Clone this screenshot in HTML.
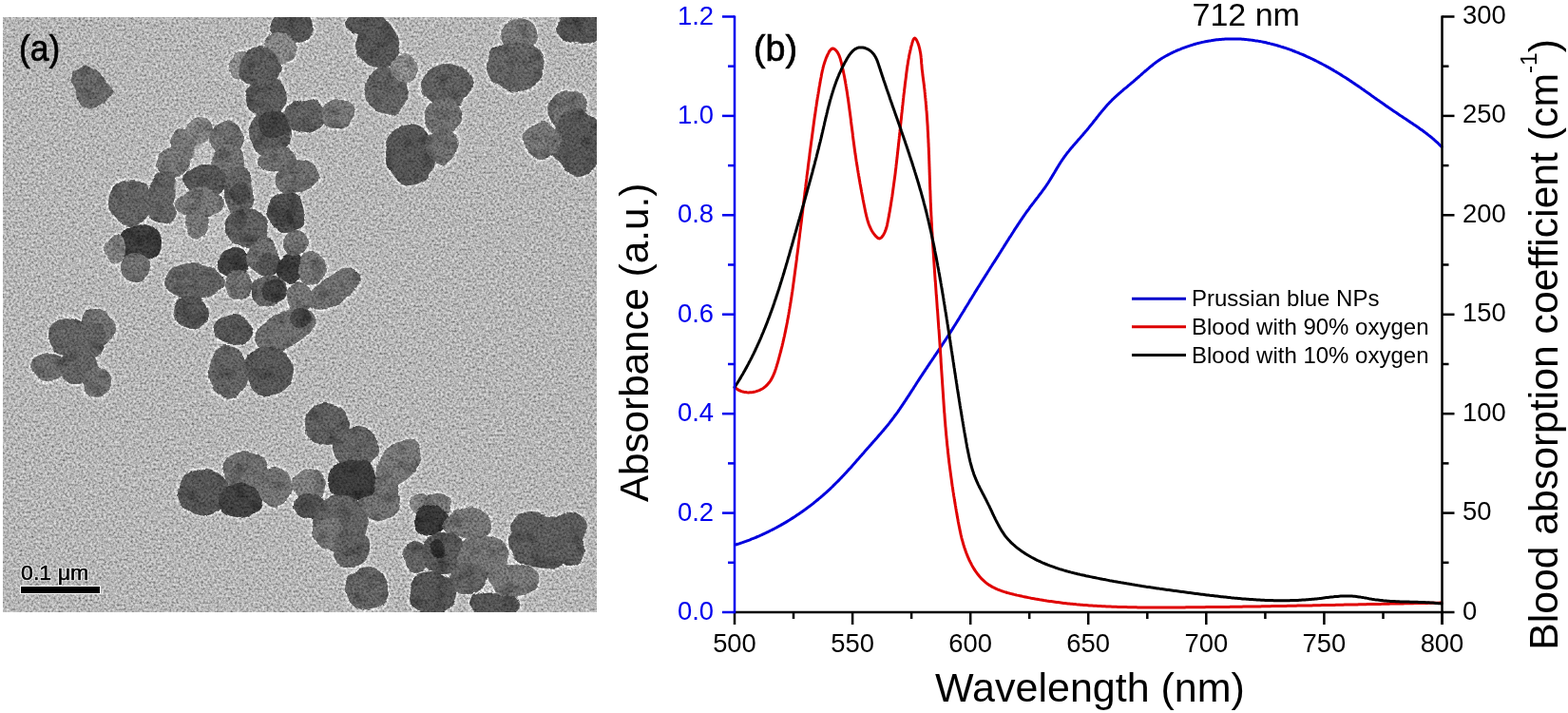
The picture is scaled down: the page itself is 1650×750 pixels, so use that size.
<!DOCTYPE html>
<html><head><meta charset="utf-8"><style>
html,body{margin:0;padding:0;background:#fff;}
body{width:1650px;height:750px;overflow:hidden;}
svg{display:block;}
text{font-family:"Liberation Sans",Arial,sans-serif;}
</style></head><body>
<svg width="1650" height="750" viewBox="0 0 1650 750">
<defs>
<filter id="nz" x="0" y="0" width="1650" height="750" filterUnits="userSpaceOnUse">
<feTurbulence type="fractalNoise" baseFrequency="0.42" numOctaves="2" seed="7" result="t"/>
<feColorMatrix in="t" type="matrix" values="1 0 0 0 0  1 0 0 0 0  1 0 0 0 0  0 0 0 0 1" result="gn"/>
<feGaussianBlur in="gn" stdDeviation="0.45" result="gb"/>
<feComposite in="SourceGraphic" in2="gb" operator="arithmetic" k1="2.0" k2="0.0" k3="0" k4="0"/>
</filter>
<filter id="bl" x="0" y="0" width="1650" height="750" filterUnits="userSpaceOnUse">
<feTurbulence type="fractalNoise" baseFrequency="0.045" numOctaves="2" seed="3" result="dn"/>
<feDisplacementMap in="SourceGraphic" in2="dn" scale="9" xChannelSelector="R" yChannelSelector="G" result="dd"/>
<feGaussianBlur in="dd" stdDeviation="0.75" result="pb"/>
<feTurbulence type="fractalNoise" baseFrequency="0.07" numOctaves="2" seed="11" result="n2"/>
<feColorMatrix in="n2" type="matrix" values="0 0 0 0 0  0 0 0 0 0  0 0 0 0 0  1.3 0 0 0 -0.62" result="dk"/>
<feComposite in="dk" in2="pb" operator="in" result="dki"/>
<feMerge><feMergeNode in="pb"/><feMergeNode in="dki"/></feMerge></filter>
<filter id="bl3" x="0" y="0" width="1650" height="750" filterUnits="userSpaceOnUse">
<feTurbulence type="fractalNoise" baseFrequency="0.045" numOctaves="2" seed="3" result="dn"/>
<feDisplacementMap in="SourceGraphic" in2="dn" scale="9" xChannelSelector="R" yChannelSelector="G" result="dd"/>
<feGaussianBlur in="dd" stdDeviation="1.2"/></filter>
<filter id="bl2" x="0" y="0" width="1650" height="750" filterUnits="userSpaceOnUse">
<feTurbulence type="fractalNoise" baseFrequency="0.045" numOctaves="2" seed="3" result="dn"/>
<feDisplacementMap in="SourceGraphic" in2="dn" scale="9" xChannelSelector="R" yChannelSelector="G" result="dd"/>
<feGaussianBlur in="dd" stdDeviation="1.4"/></filter>
<clipPath id="tc"><rect x="3" y="18" width="625" height="626"/></clipPath>
</defs>
<g clip-path="url(#tc)">
<g filter="url(#nz)">
<rect x="3" y="18" width="625" height="626" fill="#b6b6b6"/>
<g fill="#dedede" filter="url(#bl2)"><ellipse cx="308" cy="27" rx="25" ry="20"/><ellipse cx="253" cy="68" rx="14" ry="16"/><ellipse cx="295" cy="52" rx="19" ry="19"/><ellipse cx="273" cy="70" rx="24" ry="23"/><ellipse cx="281" cy="103" rx="25" ry="23"/><ellipse cx="284" cy="140" rx="25" ry="24"/><ellipse cx="289" cy="131" rx="20" ry="16"/><ellipse cx="322" cy="122" rx="23" ry="20"/><ellipse cx="355" cy="120" rx="19" ry="18"/><ellipse cx="384" cy="24" rx="23" ry="14"/><ellipse cx="397" cy="46" rx="25" ry="29"/><ellipse cx="408" cy="95" rx="25" ry="27"/><ellipse cx="425" cy="72" rx="17" ry="16"/><ellipse cx="470" cy="90" rx="29" ry="25"/><ellipse cx="466" cy="123" rx="21" ry="21"/><ellipse cx="432" cy="163" rx="28" ry="35"/><ellipse cx="465" cy="155" rx="20" ry="20"/><ellipse cx="612" cy="28" rx="27" ry="21"/><ellipse cx="546" cy="37" rx="21" ry="20"/><ellipse cx="543" cy="70" rx="32" ry="28"/><ellipse cx="597" cy="115" rx="23" ry="23"/><ellipse cx="608" cy="150" rx="29" ry="37"/><ellipse cx="571" cy="148" rx="21" ry="21"/><ellipse cx="182" cy="172" rx="19" ry="19" transform="rotate(-40 182 172)"/><ellipse cx="196" cy="152" rx="18" ry="18"/><ellipse cx="210" cy="137" rx="16" ry="17"/><ellipse cx="239" cy="145" rx="19" ry="21"/><ellipse cx="239" cy="170" rx="19" ry="19"/><ellipse cx="217" cy="190" rx="24" ry="19"/><ellipse cx="172" cy="200" rx="17" ry="23"/><ellipse cx="172" cy="222" rx="17" ry="17"/><ellipse cx="138" cy="213" rx="25" ry="26"/><ellipse cx="146" cy="256" rx="24" ry="22"/><ellipse cx="142" cy="281" rx="18" ry="17"/><ellipse cx="121" cy="262" rx="13" ry="17"/><ellipse cx="211" cy="214" rx="27" ry="18"/><ellipse cx="207" cy="236" rx="14" ry="17"/><ellipse cx="251" cy="202" rx="17" ry="29"/><ellipse cx="252" cy="204" rx="13" ry="14"/><ellipse cx="259" cy="239" rx="25" ry="22"/><ellipse cx="253" cy="231" rx="12" ry="12"/><ellipse cx="293" cy="168" rx="23" ry="15"/><ellipse cx="301" cy="223" rx="23" ry="23"/><ellipse cx="298" cy="229" rx="12" ry="12"/><ellipse cx="246" cy="276" rx="19" ry="18"/><ellipse cx="276" cy="268" rx="18" ry="21"/><ellipse cx="283" cy="278" rx="14" ry="14"/><ellipse cx="305" cy="282" rx="17" ry="18"/><ellipse cx="311" cy="256" rx="14" ry="16"/><ellipse cx="328" cy="282" rx="16" ry="19"/><ellipse cx="352" cy="305" rx="33" ry="18" transform="rotate(-37 352 305)"/><ellipse cx="250" cy="300" rx="17" ry="17"/><ellipse cx="283" cy="306" rx="21" ry="19"/><ellipse cx="289" cy="307" rx="14" ry="15"/><ellipse cx="316" cy="313" rx="17" ry="19"/><ellipse cx="312" cy="186" rx="25" ry="19" transform="rotate(-20 312 186)"/><ellipse cx="204" cy="296" rx="33" ry="21"/><ellipse cx="201" cy="329" rx="21" ry="20"/><ellipse cx="246" cy="347" rx="23" ry="18"/><ellipse cx="300" cy="347" rx="36" ry="21" transform="rotate(-25 300 347)"/><ellipse cx="316" cy="334" rx="13" ry="11"/><ellipse cx="240" cy="392" rx="22" ry="30"/><ellipse cx="283" cy="390" rx="28" ry="28"/><ellipse cx="70" cy="354" rx="21" ry="22"/><ellipse cx="103" cy="343" rx="19" ry="23" transform="rotate(-30 103 343)"/><ellipse cx="93" cy="358" rx="21" ry="22"/><ellipse cx="51" cy="386" rx="21" ry="17"/><ellipse cx="81" cy="386" rx="22" ry="19"/><ellipse cx="102" cy="402" rx="17" ry="17"/><ellipse cx="344" cy="446" rx="25" ry="25"/><ellipse cx="374" cy="472" rx="26" ry="24"/><ellipse cx="420" cy="487" rx="31" ry="21" transform="rotate(-50 420 487)"/><ellipse cx="400" cy="525" rx="24" ry="27"/><ellipse cx="371" cy="505" rx="28" ry="24"/><ellipse cx="215" cy="518" rx="28" ry="27"/><ellipse cx="258" cy="496" rx="25" ry="25"/><ellipse cx="252" cy="527" rx="25" ry="20"/><ellipse cx="289" cy="512" rx="21" ry="24"/><ellipse cx="325" cy="510" rx="19" ry="20"/><ellipse cx="326" cy="532" rx="19" ry="16"/><ellipse cx="358" cy="550" rx="32" ry="32"/><ellipse cx="345" cy="560" rx="18" ry="18"/><ellipse cx="370" cy="576" rx="22" ry="22"/><ellipse cx="387" cy="620" rx="24" ry="25"/><ellipse cx="443" cy="530" rx="14" ry="14"/><ellipse cx="461" cy="530" rx="15" ry="14"/><ellipse cx="453" cy="547" rx="19" ry="19"/><ellipse cx="491" cy="551" rx="28" ry="19"/><ellipse cx="437" cy="586" rx="16" ry="20"/><ellipse cx="467" cy="582" rx="25" ry="23"/><ellipse cx="460" cy="578" rx="10" ry="11"/><ellipse cx="509" cy="586" rx="29" ry="26"/><ellipse cx="493" cy="608" rx="22" ry="20"/><ellipse cx="455" cy="624" rx="27" ry="25"/><ellipse cx="521" cy="635" rx="28" ry="15"/><ellipse cx="541" cy="610" rx="29" ry="20"/><ellipse cx="575" cy="570" rx="42" ry="30"/><ellipse cx="560" cy="555" rx="25" ry="19"/><ellipse cx="598" cy="556" rx="21" ry="21"/><ellipse cx="600" cy="580" rx="17" ry="19"/><polygon points="76.9,76.0 89.5,70.1 101.2,75.1 117.3,96.5 110.0,106.8 93.9,114.1 86.5,111.2 82.1,96.5 75.7,83.3" stroke-width="7" stroke-linejoin="round"/></g>
<g filter="url(#bl)"><ellipse cx="308" cy="27" rx="23" ry="18" fill="#565656"/><ellipse cx="253" cy="68" rx="12" ry="14" fill="#8c8c8c"/><ellipse cx="295" cy="52" rx="17" ry="17" fill="#878787"/><ellipse cx="273" cy="70" rx="22" ry="21" fill="#5c5c5c"/><ellipse cx="281" cy="103" rx="23" ry="21" fill="#5c5c5c"/><ellipse cx="284" cy="140" rx="23" ry="22" fill="#5f5f5f"/><ellipse cx="289" cy="131" rx="18" ry="14" fill="#424242"/><ellipse cx="322" cy="122" rx="21" ry="18" fill="#606060"/><ellipse cx="355" cy="120" rx="17" ry="16" fill="#747474"/><ellipse cx="384" cy="24" rx="21" ry="12" fill="#585858"/><ellipse cx="397" cy="46" rx="23" ry="27" fill="#565656"/><ellipse cx="408" cy="95" rx="23" ry="25" fill="#646464"/><ellipse cx="425" cy="72" rx="15" ry="14" fill="#8c8c8c"/><ellipse cx="470" cy="90" rx="27" ry="23" fill="#5f5f5f"/><ellipse cx="466" cy="123" rx="19" ry="19" fill="#707070"/><ellipse cx="432" cy="163" rx="26" ry="33" fill="#565656"/><ellipse cx="465" cy="155" rx="18" ry="18" fill="#6e6e6e"/><ellipse cx="612" cy="28" rx="25" ry="19" fill="#525252"/><ellipse cx="546" cy="37" rx="19" ry="18" fill="#767676"/><ellipse cx="543" cy="70" rx="30" ry="26" fill="#646464"/><ellipse cx="597" cy="115" rx="21" ry="21" fill="#707070"/><ellipse cx="608" cy="150" rx="27" ry="35" fill="#565656"/><ellipse cx="571" cy="148" rx="19" ry="19" fill="#747474"/><ellipse cx="182" cy="172" rx="17" ry="17" fill="#767676" transform="rotate(-40 182 172)"/><ellipse cx="196" cy="152" rx="16" ry="16" fill="#767676"/><ellipse cx="210" cy="137" rx="14" ry="15" fill="#848484"/><ellipse cx="239" cy="145" rx="17" ry="19" fill="#707070"/><ellipse cx="239" cy="170" rx="17" ry="17" fill="#707070"/><ellipse cx="217" cy="190" rx="22" ry="17" fill="#555555"/><ellipse cx="172" cy="200" rx="15" ry="21" fill="#646464"/><ellipse cx="172" cy="222" rx="15" ry="15" fill="#646464"/><ellipse cx="138" cy="213" rx="23" ry="24" fill="#646464"/><ellipse cx="146" cy="256" rx="22" ry="20" fill="#3c3c3c"/><ellipse cx="142" cy="281" rx="16" ry="15" fill="#707070"/><ellipse cx="121" cy="262" rx="11" ry="15" fill="#828282"/><ellipse cx="211" cy="214" rx="25" ry="16" fill="#767676"/><ellipse cx="207" cy="236" rx="12" ry="15" fill="#767676"/><ellipse cx="251" cy="202" rx="15" ry="27" fill="#646464"/><ellipse cx="252" cy="204" rx="11" ry="12" fill="#4e4e4e"/><ellipse cx="259" cy="239" rx="23" ry="20" fill="#5f5f5f"/><ellipse cx="253" cy="231" rx="10" ry="10" fill="#505050"/><ellipse cx="293" cy="168" rx="21" ry="13" fill="#6e6e6e"/><ellipse cx="301" cy="223" rx="21" ry="21" fill="#505050"/><ellipse cx="298" cy="229" rx="10" ry="10" fill="#424242"/><ellipse cx="246" cy="276" rx="17" ry="16" fill="#424242"/><ellipse cx="276" cy="268" rx="16" ry="19" fill="#6e6e6e"/><ellipse cx="283" cy="278" rx="12" ry="12" fill="#525252"/><ellipse cx="305" cy="282" rx="15" ry="16" fill="#3c3c3c"/><ellipse cx="311" cy="256" rx="12" ry="14" fill="#707070"/><ellipse cx="328" cy="282" rx="14" ry="17" fill="#737373"/><ellipse cx="352" cy="305" rx="31" ry="16" fill="#6e6e6e" transform="rotate(-37 352 305)"/><ellipse cx="250" cy="300" rx="15" ry="15" fill="#707070"/><ellipse cx="283" cy="306" rx="19" ry="17" fill="#646464"/><ellipse cx="289" cy="307" rx="12" ry="13" fill="#414141"/><ellipse cx="316" cy="313" rx="15" ry="17" fill="#737373"/><ellipse cx="312" cy="186" rx="23" ry="17" fill="#6e6e6e" transform="rotate(-20 312 186)"/><ellipse cx="204" cy="296" rx="31" ry="19" fill="#646464"/><ellipse cx="201" cy="329" rx="19" ry="18" fill="#555555"/><ellipse cx="246" cy="347" rx="21" ry="16" fill="#565656"/><ellipse cx="300" cy="347" rx="34" ry="19" fill="#6e6e6e" transform="rotate(-25 300 347)"/><ellipse cx="316" cy="334" rx="11" ry="9" fill="#484848"/><ellipse cx="240" cy="392" rx="20" ry="28" fill="#646464"/><ellipse cx="283" cy="390" rx="26" ry="26" fill="#585858"/><ellipse cx="70" cy="354" rx="19" ry="20" fill="#646464"/><ellipse cx="103" cy="343" rx="17" ry="21" fill="#707070" transform="rotate(-30 103 343)"/><ellipse cx="93" cy="358" rx="19" ry="20" fill="#646464"/><ellipse cx="51" cy="386" rx="19" ry="15" fill="#6e6e6e"/><ellipse cx="81" cy="386" rx="20" ry="17" fill="#646464"/><ellipse cx="102" cy="402" rx="15" ry="15" fill="#6e6e6e"/><ellipse cx="344" cy="446" rx="23" ry="23" fill="#5f5f5f"/><ellipse cx="374" cy="472" rx="24" ry="22" fill="#646464"/><ellipse cx="420" cy="487" rx="29" ry="19" fill="#767676" transform="rotate(-50 420 487)"/><ellipse cx="400" cy="525" rx="22" ry="25" fill="#707070"/><ellipse cx="371" cy="505" rx="26" ry="22" fill="#3e3e3e"/><ellipse cx="215" cy="518" rx="26" ry="25" fill="#565656"/><ellipse cx="258" cy="496" rx="23" ry="23" fill="#6e6e6e"/><ellipse cx="252" cy="527" rx="23" ry="18" fill="#424242"/><ellipse cx="289" cy="512" rx="19" ry="22" fill="#737373"/><ellipse cx="325" cy="510" rx="17" ry="18" fill="#7d7d7d"/><ellipse cx="326" cy="532" rx="17" ry="14" fill="#505050"/><ellipse cx="358" cy="550" rx="30" ry="30" fill="#646464"/><ellipse cx="345" cy="560" rx="16" ry="16" fill="#737373"/><ellipse cx="370" cy="576" rx="20" ry="20" fill="#646464"/><ellipse cx="387" cy="620" rx="22" ry="23" fill="#646464"/><ellipse cx="443" cy="530" rx="12" ry="12" fill="#828282"/><ellipse cx="461" cy="530" rx="13" ry="12" fill="#767676"/><ellipse cx="453" cy="547" rx="17" ry="17" fill="#373737"/><ellipse cx="491" cy="551" rx="26" ry="17" fill="#767676"/><ellipse cx="437" cy="586" rx="14" ry="18" fill="#646464"/><ellipse cx="467" cy="582" rx="23" ry="21" fill="#585858"/><ellipse cx="460" cy="578" rx="8" ry="9" fill="#323232"/><ellipse cx="509" cy="586" rx="27" ry="24" fill="#737373"/><ellipse cx="493" cy="608" rx="20" ry="18" fill="#646464"/><ellipse cx="455" cy="624" rx="25" ry="23" fill="#555555"/><ellipse cx="521" cy="635" rx="26" ry="13" fill="#555555"/><ellipse cx="541" cy="610" rx="27" ry="18" fill="#767676"/><ellipse cx="575" cy="570" rx="40" ry="28" fill="#5c5c5c"/><ellipse cx="560" cy="555" rx="23" ry="17" fill="#5c5c5c"/><ellipse cx="598" cy="556" rx="19" ry="19" fill="#5c5c5c"/><ellipse cx="600" cy="580" rx="15" ry="17" fill="#5c5c5c"/><polygon points="76.9,76.0 89.5,70.1 101.2,75.1 117.3,96.5 110.0,106.8 93.9,114.1 86.5,111.2 82.1,96.5 75.7,83.3" fill="#696969" stroke="#696969" stroke-width="3" stroke-linejoin="round"/></g>
<g fill="#bdbdbd" filter="url(#bl3)"><ellipse cx="213" cy="162" rx="10" ry="10"/><ellipse cx="190" cy="198" rx="5" ry="7"/><ellipse cx="184" cy="258" rx="10" ry="17"/><ellipse cx="227" cy="253" rx="7" ry="19"/></g>
</g>
</g>
<text x="20" y="64.2" font-size="38" fill="#000" stroke="#000" stroke-width="0.7" transform="translate(20 0) scale(0.93 1) translate(-20 0)">(a)</text>
<rect x="21" y="616" width="85" height="9" fill="#fff"/>
<rect x="22" y="617" width="83" height="7" fill="#000"/>
<g transform="translate(22 0) scale(1.03 1) translate(-22 0)"><text x="22" y="610.3" font-size="22.5" fill="#fff" stroke="#fff" stroke-width="2.2" stroke-linejoin="round">0.1 μm</text><text x="22" y="610.3" font-size="22.5" fill="#000" stroke="#000" stroke-width="0.6">0.1 μm</text></g>

<!-- plot -->
<g fill="none" stroke-width="3" stroke-linejoin="round" stroke-linecap="round">
<path d="M773.6 573.2 L775.0 572.7 L776.4 572.3 L777.9 571.8 L779.3 571.3 L780.7 570.9 L782.1 570.4 L783.5 569.9 L784.9 569.4 L786.3 568.8 L787.8 568.3 L789.2 567.8 L790.5 567.2 L791.9 566.7 L793.3 566.1 L794.7 565.6 L796.1 565.0 L797.5 564.4 L798.9 563.8 L800.2 563.2 L801.6 562.6 L803.0 561.9 L804.3 561.3 L805.7 560.7 L807.0 560.0 L808.4 559.4 L809.7 558.7 L811.1 558.0 L812.4 557.4 L813.8 556.7 L815.1 556.0 L816.4 555.3 L817.7 554.6 L819.1 553.8 L820.4 553.1 L821.7 552.4 L823.0 551.6 L824.3 550.9 L825.6 550.1 L826.9 549.4 L828.2 548.6 L829.5 547.8 L830.8 547.0 L832.0 546.2 L833.3 545.4 L834.6 544.6 L835.9 543.8 L837.1 543.0 L838.4 542.1 L839.6 541.3 L840.9 540.4 L842.1 539.6 L843.3 538.7 L844.6 537.9 L845.8 537.0 L847.0 536.1 L848.2 535.2 L849.5 534.3 L850.7 533.4 L851.9 532.5 L853.1 531.6 L854.3 530.7 L855.4 529.8 L856.6 528.8 L857.8 527.9 L859.0 526.9 L860.1 526.0 L861.3 525.0 L862.4 524.0 L863.6 523.1 L864.7 522.1 L865.9 521.1 L867.0 520.1 L868.1 519.1 L869.3 518.1 L870.4 517.1 L871.5 516.1 L872.6 515.1 L873.7 514.1 L874.8 513.0 L875.9 512.0 L876.9 510.9 L878.0 509.9 L879.1 508.8 L880.1 507.8 L881.2 506.7 L882.3 505.6 L883.3 504.6 L884.3 503.5 L885.4 502.4 L886.4 501.3 L887.4 500.2 L888.5 499.1 L889.5 498.0 L890.5 496.9 L891.5 495.8 L892.5 494.7 L893.5 493.6 L894.6 492.5 L895.6 491.4 L896.6 490.3 L897.6 489.1 L898.6 488.0 L899.5 486.9 L900.5 485.8 L901.5 484.6 L902.5 483.5 L903.5 482.4 L904.5 481.2 L905.5 480.1 L906.5 479.0 L907.5 477.8 L908.5 476.7 L909.4 475.6 L910.4 474.4 L911.4 473.3 L912.4 472.2 L913.4 471.1 L914.4 469.9 L915.4 468.8 L916.4 467.7 L917.4 466.5 L918.4 465.4 L919.4 464.3 L920.4 463.2 L921.4 462.0 L922.4 460.9 L923.4 459.8 L924.3 458.7 L925.3 457.5 L926.3 456.4 L927.3 455.3 L928.3 454.1 L929.3 453.0 L930.2 451.8 L931.2 450.7 L932.2 449.6 L933.1 448.4 L934.1 447.2 L935.0 446.1 L936.0 444.9 L936.9 443.7 L937.8 442.5 L938.7 441.3 L939.6 440.1 L940.6 438.9 L941.4 437.7 L942.3 436.5 L943.2 435.3 L944.1 434.1 L945.0 432.9 L945.8 431.6 L946.7 430.4 L947.5 429.2 L948.4 427.9 L949.2 426.7 L950.1 425.4 L950.9 424.2 L951.7 422.9 L952.6 421.7 L953.4 420.4 L954.2 419.2 L955.0 417.9 L955.9 416.6 L956.7 415.4 L957.5 414.1 L958.3 412.8 L959.1 411.6 L959.9 410.3 L960.8 409.1 L961.6 407.8 L962.4 406.5 L963.2 405.3 L964.0 404.0 L964.8 402.7 L965.6 401.5 L966.5 400.2 L967.3 398.9 L968.1 397.7 L968.9 396.4 L969.8 395.2 L970.6 393.9 L971.4 392.7 L972.3 391.4 L973.1 390.2 L973.9 388.9 L974.8 387.7 L975.6 386.4 L976.4 385.2 L977.3 383.9 L978.1 382.7 L978.9 381.4 L979.8 380.2 L980.6 379.0 L981.5 377.7 L982.3 376.5 L983.1 375.2 L984.0 374.0 L984.8 372.7 L985.7 371.5 L986.5 370.2 L987.3 369.0 L988.2 367.7 L989.0 366.5 L989.8 365.2 L990.7 364.0 L991.5 362.7 L992.3 361.5 L993.1 360.2 L994.0 359.0 L994.8 357.7 L995.6 356.5 L996.4 355.2 L997.2 354.0 L998.1 352.7 L998.9 351.4 L999.7 350.2 L1000.5 348.9 L1001.3 347.6 L1002.1 346.4 L1002.9 345.1 L1003.7 343.8 L1004.5 342.5 L1005.3 341.3 L1006.1 340.0 L1006.9 338.7 L1007.7 337.4 L1008.5 336.2 L1009.3 334.9 L1010.0 333.6 L1010.8 332.3 L1011.6 331.0 L1012.4 329.7 L1013.2 328.5 L1014.0 327.2 L1014.8 325.9 L1015.5 324.6 L1016.3 323.3 L1017.1 322.0 L1017.9 320.8 L1018.7 319.5 L1019.5 318.2 L1020.2 316.9 L1021.0 315.6 L1021.8 314.3 L1022.6 313.1 L1023.4 311.8 L1024.2 310.5 L1025.0 309.2 L1025.7 307.9 L1026.5 306.7 L1027.3 305.4 L1028.1 304.1 L1028.9 302.8 L1029.7 301.5 L1030.5 300.3 L1031.3 299.0 L1032.1 297.7 L1032.9 296.4 L1033.7 295.2 L1034.5 293.9 L1035.3 292.6 L1036.1 291.4 L1036.9 290.1 L1037.7 288.8 L1038.5 287.6 L1039.3 286.3 L1040.1 285.0 L1040.9 283.8 L1041.7 282.5 L1042.5 281.2 L1043.3 280.0 L1044.1 278.7 L1044.9 277.4 L1045.8 276.2 L1046.6 274.9 L1047.4 273.6 L1048.2 272.4 L1049.0 271.1 L1049.8 269.8 L1050.6 268.6 L1051.4 267.3 L1052.2 266.0 L1053.0 264.8 L1053.8 263.5 L1054.6 262.2 L1055.4 261.0 L1056.2 259.7 L1057.0 258.4 L1057.8 257.1 L1058.6 255.9 L1059.4 254.6 L1060.2 253.3 L1061.0 252.1 L1061.8 250.8 L1062.6 249.5 L1063.5 248.3 L1064.3 247.0 L1065.1 245.7 L1065.9 244.5 L1066.7 243.2 L1067.5 241.9 L1068.3 240.7 L1069.2 239.4 L1070.0 238.2 L1070.8 236.9 L1071.6 235.6 L1072.5 234.4 L1073.3 233.1 L1074.1 231.9 L1075.0 230.7 L1075.8 229.4 L1076.7 228.2 L1077.5 226.9 L1078.4 225.7 L1079.2 224.5 L1080.1 223.2 L1081.0 222.0 L1081.9 220.8 L1082.8 219.6 L1083.6 218.4 L1084.5 217.2 L1085.4 216.0 L1086.3 214.8 L1087.3 213.6 L1088.2 212.4 L1089.1 211.2 L1090.0 210.0 L1090.9 208.8 L1091.9 207.6 L1092.8 206.4 L1093.7 205.2 L1094.6 204.0 L1095.5 202.8 L1096.4 201.6 L1097.3 200.4 L1098.2 199.2 L1099.1 198.0 L1099.9 196.8 L1100.8 195.5 L1101.6 194.3 L1102.5 193.0 L1103.3 191.8 L1104.1 190.5 L1104.9 189.2 L1105.7 187.9 L1106.5 186.7 L1107.2 185.4 L1108.0 184.1 L1108.8 182.8 L1109.6 181.5 L1110.3 180.2 L1111.1 178.9 L1111.9 177.6 L1112.6 176.3 L1113.4 175.1 L1114.2 173.8 L1115.0 172.5 L1115.8 171.2 L1116.6 170.0 L1117.5 168.7 L1118.3 167.5 L1119.1 166.3 L1120.0 165.0 L1120.9 163.8 L1121.8 162.6 L1122.7 161.4 L1123.6 160.3 L1124.6 159.1 L1125.5 157.9 L1126.4 156.8 L1127.4 155.6 L1128.4 154.5 L1129.3 153.3 L1130.3 152.2 L1131.3 151.0 L1132.3 149.9 L1133.3 148.8 L1134.3 147.6 L1135.3 146.5 L1136.3 145.4 L1137.3 144.2 L1138.3 143.1 L1139.3 142.0 L1140.2 140.8 L1141.2 139.7 L1142.2 138.5 L1143.2 137.4 L1144.2 136.2 L1145.1 135.1 L1146.1 133.9 L1147.0 132.7 L1148.0 131.6 L1148.9 130.4 L1149.9 129.2 L1150.8 128.0 L1151.7 126.8 L1152.7 125.7 L1153.6 124.5 L1154.5 123.3 L1155.5 122.1 L1156.4 120.9 L1157.3 119.8 L1158.3 118.6 L1159.2 117.4 L1160.2 116.3 L1161.2 115.1 L1162.1 114.0 L1163.1 112.9 L1164.1 111.7 L1165.1 110.6 L1166.1 109.5 L1167.1 108.4 L1168.1 107.3 L1169.2 106.3 L1170.2 105.2 L1171.3 104.2 L1172.4 103.1 L1173.5 102.1 L1174.6 101.1 L1175.7 100.1 L1176.8 99.1 L1177.9 98.1 L1179.1 97.1 L1180.2 96.1 L1181.4 95.2 L1182.5 94.2 L1183.7 93.2 L1184.8 92.3 L1186.0 91.3 L1187.1 90.3 L1188.3 89.4 L1189.5 88.4 L1190.6 87.4 L1191.8 86.5 L1192.9 85.5 L1194.1 84.5 L1195.2 83.5 L1196.4 82.5 L1197.5 81.5 L1198.7 80.5 L1199.8 79.5 L1200.9 78.5 L1202.1 77.5 L1203.2 76.5 L1204.3 75.5 L1205.5 74.5 L1206.6 73.6 L1207.7 72.6 L1208.9 71.6 L1210.0 70.6 L1211.2 69.7 L1212.4 68.8 L1213.5 67.8 L1214.7 66.9 L1215.9 66.0 L1217.1 65.1 L1218.3 64.3 L1219.5 63.4 L1220.8 62.6 L1222.0 61.8 L1223.2 61.0 L1224.5 60.3 L1225.8 59.5 L1227.1 58.8 L1228.4 58.1 L1229.7 57.4 L1231.0 56.7 L1232.3 56.0 L1233.7 55.4 L1235.0 54.7 L1236.4 54.1 L1237.7 53.5 L1239.1 52.9 L1240.5 52.3 L1241.9 51.8 L1243.3 51.2 L1244.7 50.7 L1246.2 50.1 L1247.6 49.6 L1249.0 49.1 L1250.5 48.6 L1252.0 48.1 L1253.4 47.6 L1254.9 47.2 L1256.4 46.7 L1257.9 46.3 L1259.3 45.9 L1260.8 45.5 L1262.3 45.1 L1263.8 44.8 L1265.3 44.4 L1266.8 44.1 L1268.3 43.8 L1269.8 43.5 L1271.3 43.2 L1272.8 42.9 L1274.3 42.7 L1275.8 42.4 L1277.3 42.2 L1278.8 42.0 L1280.3 41.8 L1281.8 41.7 L1283.3 41.5 L1284.8 41.4 L1286.3 41.3 L1287.8 41.2 L1289.3 41.1 L1290.8 41.0 L1292.3 40.9 L1293.8 40.9 L1295.3 40.9 L1296.8 40.9 L1298.3 40.9 L1299.8 40.9 L1301.3 40.9 L1302.7 41.0 L1304.2 41.0 L1305.7 41.1 L1307.2 41.2 L1308.7 41.3 L1310.2 41.4 L1311.6 41.6 L1313.1 41.7 L1314.6 41.9 L1316.1 42.1 L1317.6 42.2 L1319.0 42.4 L1320.5 42.7 L1322.0 42.9 L1323.4 43.1 L1324.9 43.4 L1326.4 43.6 L1327.8 43.9 L1329.3 44.2 L1330.8 44.5 L1332.2 44.8 L1333.7 45.2 L1335.1 45.5 L1336.6 45.9 L1338.0 46.2 L1339.5 46.6 L1340.9 47.0 L1342.4 47.4 L1343.8 47.8 L1345.2 48.2 L1346.7 48.6 L1348.1 49.1 L1349.5 49.5 L1351.0 50.0 L1352.4 50.4 L1353.8 50.9 L1355.2 51.4 L1356.7 51.9 L1358.1 52.4 L1359.5 52.9 L1360.9 53.5 L1362.3 54.0 L1363.7 54.6 L1365.1 55.1 L1366.5 55.7 L1367.9 56.3 L1369.3 56.8 L1370.7 57.4 L1372.1 58.0 L1373.5 58.6 L1374.9 59.3 L1376.2 59.9 L1377.6 60.5 L1379.0 61.2 L1380.4 61.8 L1381.7 62.5 L1383.1 63.1 L1384.5 63.8 L1385.8 64.5 L1387.2 65.2 L1388.5 65.9 L1389.9 66.6 L1391.2 67.3 L1392.5 68.0 L1393.9 68.7 L1395.2 69.4 L1396.5 70.2 L1397.9 70.9 L1399.2 71.6 L1400.5 72.4 L1401.8 73.1 L1403.1 73.9 L1404.4 74.7 L1405.7 75.4 L1407.0 76.2 L1408.3 77.0 L1409.6 77.8 L1410.9 78.6 L1412.2 79.4 L1413.4 80.2 L1414.7 81.0 L1416.0 81.8 L1417.2 82.6 L1418.5 83.4 L1419.8 84.2 L1421.0 85.1 L1422.3 85.9 L1423.5 86.7 L1424.7 87.6 L1426.0 88.4 L1427.2 89.2 L1428.4 90.1 L1429.7 90.9 L1430.9 91.8 L1432.1 92.6 L1433.3 93.5 L1434.6 94.3 L1435.8 95.2 L1437.0 96.1 L1438.2 96.9 L1439.4 97.8 L1440.6 98.6 L1441.9 99.5 L1443.1 100.4 L1444.3 101.2 L1445.5 102.1 L1446.7 103.0 L1447.9 103.8 L1449.1 104.7 L1450.4 105.5 L1451.6 106.4 L1452.8 107.3 L1454.0 108.1 L1455.3 109.0 L1456.5 109.8 L1457.7 110.7 L1458.9 111.6 L1460.2 112.4 L1461.4 113.3 L1462.6 114.1 L1463.9 115.0 L1465.1 115.8 L1466.4 116.7 L1467.6 117.5 L1468.9 118.3 L1470.2 119.2 L1471.4 120.0 L1472.7 120.9 L1473.9 121.7 L1475.2 122.5 L1476.5 123.4 L1477.7 124.2 L1479.0 125.0 L1480.2 125.9 L1481.5 126.7 L1482.7 127.6 L1484.0 128.4 L1485.2 129.2 L1486.5 130.1 L1487.7 130.9 L1489.0 131.8 L1490.2 132.6 L1491.5 133.5 L1492.7 134.3 L1493.9 135.2 L1495.1 136.1 L1496.4 136.9 L1497.6 137.8 L1498.8 138.7 L1500.0 139.6 L1501.2 140.5 L1502.3 141.4 L1503.5 142.4 L1504.7 143.3 L1505.9 144.2 L1507.0 145.2 L1508.2 146.2 L1509.3 147.2 L1510.4 148.1 L1511.5 149.2 L1512.7 150.2 L1513.8 151.2 L1514.8 152.3 L1515.9 153.3 L1517.0 154.4" stroke="#0000dd"/>
<path d="M773.7 407.8 L774.9 408.7 L776.1 409.6 L777.4 410.4 L778.8 411.0 L780.2 411.6 L781.6 412.0 L783.1 412.4 L784.6 412.6 L786.1 412.8 L787.6 412.9 L789.1 412.8 L790.7 412.7 L792.2 412.5 L793.7 412.2 L795.2 411.9 L796.6 411.4 L798.1 410.9 L799.5 410.3 L800.8 409.7 L802.1 409.0 L803.4 408.2 L804.5 407.3 L805.7 406.4 L806.7 405.4 L807.7 404.4 L808.6 403.3 L809.5 402.2 L810.4 401.1 L811.1 399.9 L811.9 398.6 L812.6 397.3 L813.2 396.0 L813.8 394.7 L814.4 393.3 L815.0 391.9 L815.5 390.5 L816.0 389.1 L816.5 387.6 L816.9 386.2 L817.4 384.7 L817.8 383.2 L818.3 381.8 L818.7 380.3 L819.1 378.8 L819.5 377.3 L819.9 375.9 L820.3 374.4 L820.7 372.9 L821.1 371.4 L821.5 370.0 L821.9 368.5 L822.2 367.0 L822.6 365.6 L823.0 364.1 L823.3 362.6 L823.7 361.1 L824.0 359.7 L824.4 358.2 L824.7 356.7 L825.0 355.2 L825.4 353.8 L825.7 352.3 L826.0 350.8 L826.3 349.4 L826.6 347.9 L826.9 346.4 L827.2 344.9 L827.5 343.5 L827.8 342.0 L828.1 340.5 L828.4 339.0 L828.6 337.6 L828.9 336.1 L829.2 334.6 L829.5 333.1 L829.7 331.7 L830.0 330.2 L830.2 328.7 L830.5 327.2 L830.7 325.7 L831.0 324.3 L831.2 322.8 L831.5 321.3 L831.7 319.8 L832.0 318.4 L832.2 316.9 L832.4 315.4 L832.7 313.9 L832.9 312.4 L833.1 311.0 L833.3 309.5 L833.5 308.0 L833.8 306.5 L834.0 305.0 L834.2 303.6 L834.4 302.1 L834.6 300.6 L834.8 299.1 L835.0 297.6 L835.2 296.2 L835.4 294.7 L835.6 293.2 L835.8 291.7 L836.0 290.2 L836.2 288.7 L836.4 287.3 L836.6 285.8 L836.8 284.3 L837.0 282.8 L837.2 281.3 L837.4 279.8 L837.6 278.4 L837.8 276.9 L838.0 275.4 L838.2 273.9 L838.4 272.4 L838.5 270.9 L838.7 269.4 L838.9 268.0 L839.1 266.5 L839.3 265.0 L839.5 263.5 L839.7 262.0 L839.9 260.5 L840.1 259.0 L840.2 257.5 L840.4 256.0 L840.6 254.6 L840.8 253.1 L841.0 251.6 L841.2 250.1 L841.4 248.6 L841.5 247.1 L841.7 245.6 L841.9 244.1 L842.1 242.6 L842.3 241.1 L842.5 239.7 L842.6 238.2 L842.8 236.7 L843.0 235.2 L843.2 233.7 L843.4 232.2 L843.6 230.7 L843.7 229.2 L843.9 227.7 L844.1 226.2 L844.3 224.7 L844.5 223.2 L844.7 221.7 L844.8 220.3 L845.0 218.8 L845.2 217.3 L845.4 215.8 L845.6 214.3 L845.7 212.8 L845.9 211.3 L846.1 209.8 L846.3 208.3 L846.5 206.8 L846.7 205.3 L846.8 203.8 L847.0 202.3 L847.2 200.8 L847.4 199.4 L847.6 197.9 L847.8 196.4 L847.9 194.9 L848.1 193.4 L848.3 191.9 L848.5 190.4 L848.7 188.9 L848.9 187.4 L849.0 185.9 L849.2 184.4 L849.4 182.9 L849.6 181.4 L849.8 179.9 L850.0 178.5 L850.2 177.0 L850.3 175.5 L850.5 174.0 L850.7 172.5 L850.9 171.0 L851.1 169.5 L851.3 168.0 L851.5 166.5 L851.7 165.0 L851.9 163.5 L852.0 162.0 L852.2 160.6 L852.4 159.1 L852.6 157.6 L852.8 156.1 L853.0 154.6 L853.2 153.1 L853.4 151.6 L853.6 150.1 L853.8 148.6 L854.0 147.2 L854.2 145.7 L854.4 144.2 L854.6 142.7 L854.8 141.2 L855.0 139.7 L855.2 138.2 L855.4 136.7 L855.6 135.3 L855.8 133.8 L856.0 132.3 L856.2 130.8 L856.4 129.3 L856.6 127.8 L856.8 126.3 L857.0 124.9 L857.2 123.4 L857.4 121.9 L857.7 120.4 L857.9 118.9 L858.1 117.4 L858.3 116.0 L858.5 114.5 L858.7 113.0 L859.0 111.5 L859.2 110.0 L859.4 108.6 L859.6 107.1 L859.9 105.6 L860.1 104.1 L860.3 102.6 L860.6 101.2 L860.8 99.7 L861.1 98.2 L861.3 96.7 L861.6 95.2 L861.8 93.8 L862.0 92.3 L862.3 90.8 L862.6 89.3 L862.8 87.9 L863.1 86.4 L863.3 84.9 L863.6 83.4 L863.9 82.0 L864.2 80.5 L864.4 79.0 L864.7 77.5 L865.0 76.1 L865.3 74.6 L865.7 73.1 L866.0 71.7 L866.4 70.2 L866.8 68.7 L867.2 67.3 L867.7 65.8 L868.2 64.3 L868.7 62.9 L869.2 61.4 L869.8 60.0 L870.5 58.5 L871.1 57.1 L871.9 55.6 L872.6 54.2 L873.5 53.0 L874.4 52.0 L875.3 51.3 L876.3 51.0 L877.4 51.3 L878.5 51.9 L879.5 52.8 L880.5 54.0 L881.4 55.2 L882.1 56.5 L882.8 57.9 L883.4 59.4 L883.9 60.8 L884.4 62.4 L884.8 63.9 L885.2 65.4 L885.6 67.0 L885.9 68.5 L886.3 70.0 L886.6 71.6 L887.0 73.1 L887.3 74.6 L887.6 76.1 L887.9 77.5 L888.2 79.0 L888.5 80.5 L888.8 82.0 L889.0 83.4 L889.3 84.9 L889.6 86.3 L889.8 87.8 L890.1 89.3 L890.3 90.7 L890.6 92.2 L890.8 93.6 L891.0 95.1 L891.3 96.5 L891.5 98.0 L891.7 99.4 L891.9 100.9 L892.1 102.4 L892.4 103.9 L892.6 105.3 L892.8 106.8 L893.0 108.3 L893.2 109.8 L893.4 111.2 L893.6 112.7 L893.8 114.2 L894.0 115.7 L894.2 117.2 L894.4 118.7 L894.6 120.2 L894.8 121.7 L895.0 123.2 L895.2 124.7 L895.4 126.2 L895.5 127.7 L895.7 129.2 L895.9 130.7 L896.1 132.2 L896.3 133.7 L896.5 135.2 L896.7 136.7 L896.9 138.2 L897.1 139.7 L897.3 141.2 L897.4 142.7 L897.6 144.2 L897.8 145.7 L898.0 147.2 L898.2 148.7 L898.4 150.2 L898.6 151.7 L898.8 153.2 L899.0 154.7 L899.2 156.2 L899.4 157.7 L899.6 159.2 L899.8 160.6 L900.0 162.1 L900.3 163.6 L900.5 165.1 L900.7 166.6 L900.9 168.0 L901.1 169.5 L901.4 171.0 L901.6 172.5 L901.8 173.9 L902.1 175.4 L902.3 176.9 L902.5 178.3 L902.8 179.8 L903.0 181.3 L903.3 182.7 L903.5 184.2 L903.8 185.7 L904.0 187.1 L904.3 188.6 L904.5 190.1 L904.8 191.5 L905.0 193.0 L905.3 194.5 L905.6 195.9 L905.8 197.4 L906.1 198.9 L906.4 200.3 L906.6 201.8 L906.9 203.3 L907.2 204.8 L907.5 206.2 L907.8 207.7 L908.0 209.2 L908.3 210.7 L908.6 212.2 L908.9 213.7 L909.2 215.2 L909.5 216.7 L909.8 218.2 L910.1 219.7 L910.4 221.2 L910.7 222.7 L911.0 224.2 L911.4 225.7 L911.7 227.2 L912.1 228.7 L912.5 230.2 L912.9 231.6 L913.3 233.1 L913.8 234.5 L914.3 236.0 L914.9 237.4 L915.4 238.7 L916.1 240.1 L916.7 241.4 L917.4 242.7 L918.2 244.0 L919.0 245.2 L919.9 246.4 L920.8 247.6 L921.8 248.7 L922.9 249.7 L924.0 250.5 L925.1 250.9 L926.1 250.8 L927.2 250.1 L928.1 249.2 L929.0 248.0 L929.8 246.7 L930.5 245.4 L931.1 244.1 L931.7 242.7 L932.2 241.2 L932.7 239.8 L933.1 238.3 L933.5 236.8 L933.8 235.3 L934.1 233.7 L934.4 232.2 L934.7 230.7 L935.0 229.1 L935.3 227.6 L935.6 226.1 L935.8 224.6 L936.1 223.1 L936.4 221.6 L936.6 220.1 L936.9 218.6 L937.1 217.1 L937.4 215.6 L937.6 214.1 L937.8 212.6 L938.1 211.1 L938.3 209.6 L938.5 208.2 L938.8 206.7 L939.0 205.2 L939.2 203.7 L939.4 202.3 L939.6 200.8 L939.8 199.3 L940.0 197.8 L940.2 196.4 L940.4 194.9 L940.6 193.4 L940.8 192.0 L941.0 190.5 L941.2 189.0 L941.4 187.5 L941.6 186.1 L941.8 184.6 L942.0 183.1 L942.2 181.6 L942.3 180.2 L942.5 178.7 L942.7 177.2 L942.9 175.7 L943.0 174.2 L943.2 172.7 L943.4 171.3 L943.6 169.8 L943.7 168.3 L943.9 166.8 L944.1 165.3 L944.2 163.8 L944.4 162.3 L944.6 160.8 L944.7 159.3 L944.9 157.8 L945.1 156.3 L945.2 154.8 L945.4 153.3 L945.5 151.8 L945.7 150.3 L945.9 148.8 L946.0 147.3 L946.2 145.9 L946.3 144.4 L946.5 142.9 L946.6 141.4 L946.8 139.9 L947.0 138.4 L947.1 136.9 L947.3 135.4 L947.4 133.8 L947.6 132.3 L947.7 130.8 L947.9 129.3 L948.0 127.8 L948.2 126.3 L948.4 124.8 L948.5 123.3 L948.7 121.8 L948.8 120.3 L949.0 118.8 L949.2 117.4 L949.3 115.9 L949.5 114.4 L949.6 112.9 L949.8 111.4 L950.0 109.9 L950.1 108.4 L950.3 106.9 L950.4 105.4 L950.6 103.9 L950.8 102.4 L950.9 100.9 L951.1 99.4 L951.3 97.9 L951.5 96.4 L951.6 94.9 L951.8 93.5 L952.0 92.0 L952.2 90.5 L952.3 89.0 L952.5 87.5 L952.7 86.0 L952.9 84.6 L953.1 83.1 L953.3 81.6 L953.5 80.1 L953.6 78.7 L953.8 77.2 L954.0 75.7 L954.2 74.2 L954.4 72.8 L954.6 71.3 L954.8 69.8 L955.1 68.4 L955.3 66.9 L955.5 65.4 L955.7 64.0 L956.0 62.5 L956.3 61.0 L956.5 59.5 L956.8 58.0 L957.1 56.5 L957.5 54.9 L957.8 53.4 L958.2 51.8 L958.5 50.3 L958.9 48.7 L959.4 47.1 L959.8 45.5 L960.3 43.9 L960.8 42.4 L961.4 41.2 L962.0 40.4 L962.6 40.1 L963.2 40.4 L963.9 41.2 L964.6 42.3 L965.3 43.8 L965.9 45.3 L966.5 46.9 L967.0 48.5 L967.4 50.1 L967.8 51.6 L968.1 53.2 L968.4 54.7 L968.7 56.2 L968.9 57.7 L969.1 59.2 L969.2 60.7 L969.4 62.2 L969.5 63.7 L969.6 65.2 L969.7 66.7 L969.9 68.1 L970.0 69.6 L970.1 71.1 L970.2 72.6 L970.4 74.1 L970.6 75.5 L970.8 77.0 L970.9 78.5 L971.1 80.0 L971.3 81.5 L971.5 83.0 L971.7 84.5 L971.9 86.0 L972.1 87.5 L972.3 89.0 L972.5 90.5 L972.6 91.9 L972.8 93.4 L973.0 94.9 L973.1 96.4 L973.3 97.9 L973.4 99.4 L973.6 100.9 L973.7 102.4 L973.9 103.9 L974.0 105.4 L974.2 106.9 L974.3 108.4 L974.4 109.9 L974.6 111.4 L974.7 112.9 L974.8 114.4 L974.9 115.9 L975.1 117.4 L975.2 118.9 L975.3 120.4 L975.4 121.9 L975.5 123.4 L975.6 124.9 L975.7 126.4 L975.8 127.9 L975.9 129.4 L976.0 130.8 L976.1 132.3 L976.2 133.8 L976.2 135.3 L976.3 136.8 L976.4 138.3 L976.5 139.8 L976.6 141.3 L976.6 142.8 L976.7 144.3 L976.8 145.8 L976.9 147.3 L976.9 148.8 L977.0 150.3 L977.1 151.8 L977.1 153.3 L977.2 154.8 L977.3 156.3 L977.3 157.8 L977.4 159.3 L977.4 160.8 L977.5 162.3 L977.6 163.8 L977.6 165.3 L977.7 166.8 L977.7 168.3 L977.8 169.8 L977.8 171.3 L977.9 172.8 L977.9 174.3 L978.0 175.9 L978.0 177.4 L978.1 178.9 L978.1 180.4 L978.2 181.9 L978.2 183.4 L978.3 184.9 L978.3 186.4 L978.4 187.9 L978.4 189.4 L978.5 190.9 L978.5 192.4 L978.6 193.9 L978.6 195.4 L978.7 196.9 L978.7 198.4 L978.8 199.9 L978.9 201.4 L978.9 202.9 L979.0 204.4 L979.0 205.9 L979.1 207.4 L979.1 208.9 L979.2 210.4 L979.2 211.9 L979.3 213.4 L979.4 214.9 L979.4 216.4 L979.5 217.9 L979.6 219.4 L979.6 220.9 L979.7 222.4 L979.8 223.9 L979.8 225.4 L979.9 226.9 L980.0 228.4 L980.1 229.9 L980.1 231.4 L980.2 232.9 L980.3 234.4 L980.4 235.9 L980.5 237.4 L980.5 238.9 L980.6 240.4 L980.7 241.9 L980.8 243.4 L980.9 244.9 L981.0 246.4 L981.0 247.9 L981.1 249.4 L981.2 250.9 L981.3 252.4 L981.4 253.9 L981.5 255.4 L981.6 256.9 L981.7 258.4 L981.8 259.9 L981.9 261.4 L982.0 262.9 L982.1 264.4 L982.2 265.9 L982.3 267.3 L982.4 268.8 L982.5 270.3 L982.6 271.8 L982.7 273.3 L982.8 274.8 L982.9 276.3 L983.0 277.8 L983.1 279.3 L983.2 280.8 L983.3 282.3 L983.4 283.8 L983.5 285.3 L983.6 286.8 L983.7 288.3 L983.8 289.8 L983.9 291.3 L984.0 292.8 L984.1 294.3 L984.2 295.8 L984.4 297.3 L984.5 298.8 L984.6 300.3 L984.7 301.8 L984.8 303.3 L984.9 304.8 L985.0 306.3 L985.1 307.8 L985.2 309.3 L985.3 310.8 L985.5 312.3 L985.6 313.8 L985.7 315.3 L985.8 316.8 L985.9 318.3 L986.0 319.8 L986.1 321.3 L986.2 322.8 L986.3 324.3 L986.4 325.8 L986.6 327.3 L986.7 328.8 L986.8 330.3 L986.9 331.8 L987.0 333.3 L987.1 334.8 L987.2 336.3 L987.3 337.7 L987.4 339.2 L987.5 340.7 L987.6 342.2 L987.7 343.7 L987.8 345.2 L988.0 346.7 L988.1 348.2 L988.2 349.7 L988.3 351.2 L988.4 352.7 L988.5 354.2 L988.6 355.7 L988.7 357.2 L988.8 358.7 L988.9 360.2 L989.0 361.7 L989.1 363.2 L989.2 364.7 L989.3 366.2 L989.4 367.7 L989.5 369.2 L989.6 370.7 L989.7 372.2 L989.8 373.7 L989.9 375.2 L990.0 376.7 L990.1 378.2 L990.1 379.7 L990.2 381.2 L990.3 382.7 L990.4 384.2 L990.5 385.7 L990.6 387.2 L990.7 388.7 L990.8 390.2 L990.9 391.7 L991.0 393.2 L991.1 394.7 L991.2 396.2 L991.3 397.7 L991.4 399.2 L991.5 400.7 L991.6 402.2 L991.7 403.7 L991.8 405.2 L991.9 406.7 L992.0 408.2 L992.1 409.7 L992.2 411.2 L992.3 412.7 L992.4 414.2 L992.5 415.7 L992.6 417.2 L992.7 418.7 L992.8 420.2 L992.9 421.6 L993.0 423.1 L993.1 424.6 L993.2 426.1 L993.3 427.6 L993.4 429.1 L993.5 430.6 L993.6 432.1 L993.7 433.6 L993.9 435.1 L994.0 436.6 L994.1 438.1 L994.2 439.6 L994.3 441.1 L994.4 442.6 L994.6 444.1 L994.7 445.6 L994.8 447.1 L994.9 448.6 L995.1 450.1 L995.2 451.6 L995.3 453.1 L995.5 454.6 L995.6 456.1 L995.7 457.6 L995.9 459.1 L996.0 460.6 L996.2 462.1 L996.3 463.5 L996.4 465.0 L996.6 466.5 L996.7 468.0 L996.9 469.5 L997.1 471.0 L997.2 472.5 L997.4 474.0 L997.5 475.5 L997.7 477.0 L997.9 478.5 L998.0 480.0 L998.2 481.5 L998.4 483.0 L998.6 484.5 L998.7 486.0 L998.9 487.4 L999.1 488.9 L999.3 490.4 L999.5 491.9 L999.7 493.4 L999.9 494.9 L1000.1 496.4 L1000.3 497.9 L1000.5 499.4 L1000.7 500.9 L1000.9 502.4 L1001.1 503.8 L1001.3 505.3 L1001.5 506.8 L1001.7 508.3 L1001.9 509.8 L1002.1 511.3 L1002.4 512.8 L1002.6 514.3 L1002.8 515.7 L1003.0 517.2 L1003.3 518.7 L1003.5 520.2 L1003.7 521.7 L1004.0 523.2 L1004.2 524.6 L1004.4 526.1 L1004.7 527.6 L1004.9 529.1 L1005.2 530.6 L1005.4 532.0 L1005.7 533.5 L1005.9 535.0 L1006.2 536.5 L1006.4 538.0 L1006.7 539.4 L1006.9 540.9 L1007.2 542.4 L1007.4 543.9 L1007.7 545.3 L1008.0 546.8 L1008.2 548.3 L1008.5 549.8 L1008.8 551.2 L1009.1 552.7 L1009.4 554.2 L1009.7 555.6 L1010.0 557.1 L1010.3 558.6 L1010.6 560.0 L1010.9 561.5 L1011.2 562.9 L1011.6 564.4 L1011.9 565.8 L1012.3 567.3 L1012.7 568.7 L1013.1 570.2 L1013.5 571.6 L1013.9 573.0 L1014.4 574.5 L1014.8 575.9 L1015.3 577.3 L1015.8 578.8 L1016.3 580.2 L1016.8 581.6 L1017.4 583.0 L1017.9 584.4 L1018.5 585.8 L1019.1 587.2 L1019.7 588.6 L1020.4 590.0 L1021.1 591.4 L1021.8 592.7 L1022.5 594.1 L1023.2 595.4 L1024.0 596.8 L1024.8 598.1 L1025.6 599.4 L1026.4 600.7 L1027.3 601.9 L1028.2 603.1 L1029.1 604.3 L1030.1 605.5 L1031.0 606.7 L1032.0 607.8 L1033.0 608.9 L1034.1 609.9 L1035.2 610.9 L1036.3 611.9 L1037.4 612.8 L1038.5 613.7 L1039.7 614.6 L1040.9 615.4 L1042.2 616.1 L1043.4 616.9 L1044.7 617.6 L1046.0 618.2 L1047.3 618.9 L1048.7 619.5 L1050.0 620.1 L1051.4 620.6 L1052.8 621.2 L1054.2 621.7 L1055.6 622.1 L1057.0 622.6 L1058.5 623.0 L1059.9 623.5 L1061.4 623.9 L1062.8 624.3 L1064.3 624.6 L1065.8 625.0 L1067.3 625.4 L1068.8 625.7 L1070.2 626.1 L1071.7 626.4 L1073.2 626.7 L1074.7 627.0 L1076.2 627.4 L1077.7 627.7 L1079.1 628.0 L1080.6 628.3 L1082.1 628.6 L1083.6 628.9 L1085.1 629.2 L1086.6 629.4 L1088.1 629.7 L1089.5 630.0 L1091.0 630.2 L1092.5 630.5 L1094.0 630.8 L1095.5 631.0 L1097.0 631.2 L1098.5 631.5 L1100.0 631.7 L1101.5 632.0 L1102.9 632.2 L1104.4 632.4 L1105.9 632.6 L1107.4 632.8 L1108.9 633.0 L1110.4 633.2 L1111.9 633.4 L1113.4 633.6 L1114.9 633.8 L1116.4 634.0 L1117.8 634.2 L1119.3 634.4 L1120.8 634.5 L1122.3 634.7 L1123.8 634.9 L1125.3 635.0 L1126.8 635.2 L1128.3 635.3 L1129.8 635.5 L1131.3 635.6 L1132.8 635.8 L1134.3 635.9 L1135.8 636.0 L1137.3 636.2 L1138.8 636.3 L1140.3 636.4 L1141.7 636.5 L1143.2 636.6 L1144.7 636.7 L1146.2 636.9 L1147.7 637.0 L1149.2 637.1 L1150.7 637.2 L1152.2 637.3 L1153.7 637.3 L1155.2 637.4 L1156.7 637.5 L1158.2 637.6 L1159.7 637.7 L1161.2 637.8 L1162.7 637.8 L1164.2 637.9 L1165.7 638.0 L1167.2 638.0 L1168.7 638.1 L1170.2 638.2 L1171.7 638.2 L1173.2 638.3 L1174.7 638.3 L1176.2 638.4 L1177.7 638.4 L1179.2 638.5 L1180.7 638.5 L1182.2 638.6 L1183.7 638.6 L1185.2 638.6 L1186.7 638.7 L1188.2 638.7 L1189.7 638.7 L1191.2 638.8 L1192.7 638.8 L1194.2 638.8 L1195.7 638.8 L1197.2 638.9 L1198.7 638.9 L1200.2 638.9 L1201.7 638.9 L1203.2 638.9 L1204.7 638.9 L1206.2 638.9 L1207.7 639.0 L1209.2 639.0 L1210.7 639.0 L1212.2 639.0 L1213.7 639.0 L1215.2 639.0 L1216.7 639.0 L1218.2 639.0 L1219.7 639.0 L1221.2 639.0 L1222.7 639.0 L1224.2 639.0 L1225.7 639.0 L1227.2 639.0 L1228.7 639.0 L1230.2 639.0 L1231.7 639.0 L1233.2 638.9 L1234.7 638.9 L1236.2 638.9 L1237.7 638.9 L1239.2 638.9 L1240.7 638.9 L1242.2 638.9 L1243.7 638.9 L1245.2 638.9 L1246.7 638.9 L1248.2 638.8 L1249.7 638.8 L1251.2 638.8 L1252.7 638.8 L1254.2 638.8 L1255.7 638.8 L1257.2 638.8 L1258.7 638.8 L1260.2 638.7 L1261.7 638.7 L1263.2 638.7 L1264.7 638.7 L1266.2 638.7 L1267.7 638.7 L1269.3 638.6 L1270.8 638.6 L1272.3 638.6 L1273.8 638.6 L1275.3 638.6 L1276.8 638.6 L1278.3 638.5 L1279.8 638.5 L1281.3 638.5 L1282.8 638.5 L1284.3 638.5 L1285.8 638.5 L1287.3 638.4 L1288.8 638.4 L1290.3 638.4 L1291.8 638.4 L1293.3 638.4 L1294.8 638.3 L1296.3 638.3 L1297.8 638.3 L1299.3 638.3 L1300.8 638.2 L1302.3 638.2 L1303.8 638.2 L1305.3 638.2 L1306.8 638.2 L1308.3 638.1 L1309.8 638.1 L1311.3 638.1 L1312.8 638.1 L1314.3 638.0 L1315.8 638.0 L1317.3 638.0 L1318.8 638.0 L1320.3 638.0 L1321.8 637.9 L1323.3 637.9 L1324.8 637.9 L1326.3 637.9 L1327.8 637.8 L1329.3 637.8 L1330.8 637.8 L1332.3 637.8 L1333.8 637.7 L1335.3 637.7 L1336.8 637.7 L1338.3 637.6 L1339.8 637.6 L1341.3 637.6 L1342.8 637.6 L1344.3 637.5 L1345.8 637.5 L1347.3 637.5 L1348.8 637.5 L1350.3 637.4 L1351.9 637.4 L1353.4 637.4 L1354.9 637.3 L1356.4 637.3 L1357.9 637.3 L1359.4 637.3 L1360.9 637.2 L1362.4 637.2 L1363.9 637.2 L1365.4 637.1 L1366.9 637.1 L1368.4 637.1 L1369.9 637.1 L1371.4 637.0 L1372.9 637.0 L1374.4 637.0 L1375.9 636.9 L1377.4 636.9 L1378.9 636.9 L1380.4 636.9 L1381.9 636.8 L1383.4 636.8 L1384.9 636.8 L1386.4 636.7 L1387.9 636.7 L1389.4 636.7 L1390.9 636.6 L1392.4 636.6 L1393.9 636.6 L1395.4 636.6 L1396.9 636.5 L1398.4 636.5 L1399.9 636.5 L1401.4 636.4 L1402.9 636.4 L1404.4 636.4 L1405.9 636.3 L1407.4 636.3 L1408.9 636.3 L1410.4 636.2 L1411.9 636.2 L1413.4 636.2 L1414.9 636.1 L1416.4 636.1 L1417.9 636.1 L1419.4 636.1 L1420.9 636.0 L1422.4 636.0 L1423.9 636.0 L1425.4 635.9 L1426.9 635.9 L1428.4 635.9 L1429.9 635.8 L1431.4 635.8 L1432.9 635.8 L1434.4 635.7 L1435.9 635.7 L1437.4 635.7 L1438.9 635.6 L1440.4 635.6 L1441.9 635.6 L1443.4 635.6 L1444.9 635.5 L1446.4 635.5 L1447.9 635.5 L1449.4 635.4 L1450.9 635.4 L1452.5 635.4 L1454.0 635.3 L1455.5 635.3 L1457.0 635.3 L1458.5 635.2 L1460.0 635.2 L1461.5 635.2 L1463.0 635.1 L1464.5 635.1 L1466.0 635.1 L1467.5 635.1 L1469.0 635.0 L1470.5 635.0 L1472.0 635.0 L1473.5 634.9 L1475.0 634.9 L1476.5 634.9 L1478.0 634.8 L1479.5 634.8 L1481.0 634.8 L1482.5 634.8 L1484.0 634.7 L1485.5 634.7 L1487.0 634.7 L1488.5 634.6 L1490.0 634.6 L1491.5 634.6 L1493.0 634.5 L1494.5 634.5 L1496.0 634.5 L1497.5 634.5 L1499.0 634.4 L1500.5 634.4 L1502.0 634.4 L1503.5 634.3 L1505.0 634.3 L1506.5 634.3 L1508.0 634.3 L1509.5 634.2 L1511.0 634.2 L1512.5 634.2 L1514.0 634.2 L1515.5 634.1 L1517.0 634.1" stroke="#e00000"/>
<path d="M773.0 407.4 L773.8 406.1 L774.7 404.8 L775.5 403.5 L776.3 402.3 L777.1 401.0 L777.9 399.7 L778.7 398.4 L779.5 397.1 L780.2 395.8 L781.0 394.5 L781.8 393.2 L782.5 391.8 L783.3 390.5 L784.0 389.2 L784.7 387.9 L785.5 386.6 L786.2 385.2 L786.9 383.9 L787.6 382.6 L788.3 381.2 L789.0 379.9 L789.7 378.6 L790.4 377.2 L791.1 375.9 L791.7 374.6 L792.4 373.2 L793.1 371.9 L793.7 370.5 L794.4 369.2 L795.0 367.8 L795.6 366.4 L796.3 365.1 L796.9 363.7 L797.5 362.4 L798.1 361.0 L798.8 359.6 L799.4 358.2 L800.0 356.9 L800.6 355.5 L801.2 354.1 L801.7 352.7 L802.3 351.4 L802.9 350.0 L803.5 348.6 L804.0 347.2 L804.6 345.8 L805.2 344.4 L805.7 343.1 L806.3 341.7 L806.8 340.3 L807.4 338.9 L807.9 337.5 L808.4 336.1 L809.0 334.7 L809.5 333.3 L810.0 331.9 L810.5 330.5 L811.0 329.1 L811.6 327.6 L812.1 326.2 L812.6 324.8 L813.1 323.4 L813.6 322.0 L814.1 320.6 L814.6 319.2 L815.0 317.8 L815.5 316.3 L816.0 314.9 L816.5 313.5 L817.0 312.1 L817.4 310.7 L817.9 309.2 L818.4 307.8 L818.8 306.4 L819.3 305.0 L819.8 303.5 L820.2 302.1 L820.7 300.7 L821.1 299.2 L821.6 297.8 L822.0 296.4 L822.5 294.9 L822.9 293.5 L823.3 292.1 L823.8 290.6 L824.2 289.2 L824.7 287.8 L825.1 286.3 L825.5 284.9 L825.9 283.4 L826.4 282.0 L826.8 280.6 L827.2 279.1 L827.6 277.7 L828.1 276.2 L828.5 274.8 L828.9 273.4 L829.3 271.9 L829.7 270.5 L830.2 269.0 L830.6 267.6 L831.0 266.1 L831.4 264.7 L831.8 263.2 L832.2 261.8 L832.6 260.3 L833.1 258.9 L833.5 257.5 L833.9 256.0 L834.3 254.6 L834.7 253.1 L835.1 251.7 L835.5 250.2 L835.9 248.8 L836.3 247.3 L836.7 245.9 L837.2 244.4 L837.6 243.0 L838.0 241.5 L838.4 240.1 L838.8 238.7 L839.2 237.2 L839.6 235.8 L840.0 234.3 L840.4 232.9 L840.8 231.4 L841.3 230.0 L841.7 228.5 L842.1 227.1 L842.5 225.6 L842.9 224.2 L843.3 222.8 L843.7 221.3 L844.1 219.9 L844.5 218.4 L844.9 217.0 L845.4 215.5 L845.8 214.1 L846.2 212.6 L846.6 211.2 L847.0 209.8 L847.4 208.3 L847.8 206.9 L848.2 205.4 L848.6 204.0 L849.0 202.5 L849.4 201.1 L849.8 199.6 L850.2 198.2 L850.6 196.7 L851.0 195.3 L851.4 193.8 L851.8 192.4 L852.2 190.9 L852.6 189.5 L853.0 188.1 L853.4 186.6 L853.8 185.2 L854.2 183.7 L854.6 182.3 L855.0 180.8 L855.3 179.4 L855.7 177.9 L856.1 176.5 L856.5 175.0 L856.9 173.6 L857.3 172.1 L857.6 170.7 L858.0 169.2 L858.4 167.8 L858.8 166.3 L859.2 164.8 L859.5 163.4 L859.9 161.9 L860.3 160.5 L860.6 159.0 L861.0 157.6 L861.4 156.1 L861.7 154.7 L862.1 153.2 L862.4 151.7 L862.8 150.3 L863.2 148.8 L863.5 147.4 L863.9 145.9 L864.2 144.5 L864.6 143.0 L864.9 141.5 L865.2 140.1 L865.6 138.6 L865.9 137.1 L866.3 135.7 L866.6 134.2 L866.9 132.8 L867.3 131.3 L867.6 129.8 L867.9 128.4 L868.3 126.9 L868.6 125.4 L869.0 124.0 L869.3 122.5 L869.7 121.1 L870.0 119.6 L870.4 118.1 L870.7 116.7 L871.1 115.2 L871.4 113.8 L871.8 112.3 L872.2 110.9 L872.6 109.4 L873.0 108.0 L873.3 106.5 L873.7 105.1 L874.2 103.6 L874.6 102.2 L875.0 100.8 L875.4 99.3 L875.9 97.9 L876.3 96.5 L876.8 95.0 L877.2 93.6 L877.7 92.2 L878.2 90.8 L878.7 89.3 L879.2 87.9 L879.7 86.5 L880.2 85.1 L880.8 83.7 L881.3 82.3 L881.9 80.9 L882.5 79.5 L883.0 78.1 L883.6 76.8 L884.3 75.4 L884.9 74.0 L885.5 72.6 L886.2 71.3 L886.9 69.9 L887.6 68.5 L888.3 67.2 L889.0 65.8 L889.8 64.5 L890.5 63.2 L891.3 61.8 L892.1 60.5 L892.9 59.2 L893.8 57.9 L894.7 56.7 L895.6 55.5 L896.6 54.4 L897.6 53.4 L898.6 52.5 L899.7 51.7 L900.9 51.1 L902.1 50.5 L903.4 50.1 L904.8 49.9 L906.3 49.9 L907.8 50.0 L909.3 50.3 L910.9 50.8 L912.4 51.4 L913.8 52.1 L915.2 53.0 L916.4 53.9 L917.6 55.0 L918.7 56.2 L919.7 57.4 L920.5 58.7 L921.3 60.0 L922.0 61.4 L922.6 62.7 L923.2 64.1 L923.7 65.5 L924.2 66.9 L924.7 68.4 L925.1 69.8 L925.6 71.2 L926.1 72.6 L926.5 74.1 L927.0 75.5 L927.5 76.9 L927.9 78.3 L928.4 79.7 L928.9 81.2 L929.4 82.6 L929.8 84.0 L930.3 85.4 L930.8 86.8 L931.3 88.3 L931.8 89.7 L932.2 91.1 L932.7 92.5 L933.2 93.9 L933.7 95.4 L934.2 96.8 L934.7 98.2 L935.2 99.6 L935.7 101.0 L936.2 102.5 L936.6 103.9 L937.1 105.3 L937.6 106.7 L938.1 108.1 L938.6 109.5 L939.1 111.0 L939.6 112.4 L940.1 113.8 L940.6 115.2 L941.1 116.6 L941.6 118.1 L942.1 119.5 L942.6 120.9 L943.1 122.3 L943.6 123.7 L944.1 125.1 L944.6 126.6 L945.1 128.0 L945.6 129.4 L946.1 130.8 L946.6 132.2 L947.1 133.7 L947.6 135.1 L948.1 136.5 L948.5 137.9 L949.0 139.3 L949.5 140.7 L950.0 142.2 L950.5 143.6 L951.0 145.0 L951.5 146.4 L952.0 147.9 L952.5 149.3 L952.9 150.7 L953.4 152.1 L953.9 153.5 L954.4 155.0 L954.9 156.4 L955.3 157.8 L955.8 159.2 L956.3 160.7 L956.8 162.1 L957.2 163.5 L957.7 164.9 L958.2 166.4 L958.6 167.8 L959.1 169.2 L959.6 170.6 L960.0 172.1 L960.5 173.5 L960.9 174.9 L961.4 176.3 L961.8 177.8 L962.3 179.2 L962.7 180.6 L963.2 182.1 L963.6 183.5 L964.1 184.9 L964.5 186.4 L964.9 187.8 L965.4 189.2 L965.8 190.7 L966.2 192.1 L966.7 193.5 L967.1 195.0 L967.5 196.4 L967.9 197.9 L968.3 199.3 L968.8 200.7 L969.2 202.2 L969.6 203.6 L970.0 205.1 L970.4 206.5 L970.8 208.0 L971.2 209.4 L971.6 210.9 L972.0 212.3 L972.3 213.8 L972.7 215.2 L973.1 216.7 L973.5 218.1 L973.9 219.6 L974.2 221.0 L974.6 222.5 L975.0 223.9 L975.3 225.4 L975.7 226.8 L976.0 228.3 L976.4 229.8 L976.7 231.2 L977.1 232.7 L977.4 234.1 L977.8 235.6 L978.1 237.1 L978.4 238.5 L978.8 240.0 L979.1 241.5 L979.4 242.9 L979.8 244.4 L980.1 245.9 L980.4 247.3 L980.7 248.8 L981.0 250.3 L981.3 251.7 L981.6 253.2 L982.0 254.7 L982.3 256.2 L982.6 257.6 L982.9 259.1 L983.2 260.6 L983.5 262.0 L983.7 263.5 L984.0 265.0 L984.3 266.5 L984.6 267.9 L984.9 269.4 L985.2 270.9 L985.5 272.4 L985.7 273.9 L986.0 275.3 L986.3 276.8 L986.6 278.3 L986.8 279.8 L987.1 281.2 L987.4 282.7 L987.7 284.2 L987.9 285.7 L988.2 287.2 L988.5 288.6 L988.7 290.1 L989.0 291.6 L989.2 293.1 L989.5 294.6 L989.8 296.0 L990.0 297.5 L990.3 299.0 L990.5 300.5 L990.8 302.0 L991.0 303.4 L991.3 304.9 L991.5 306.4 L991.8 307.9 L992.0 309.4 L992.3 310.9 L992.5 312.3 L992.8 313.8 L993.0 315.3 L993.2 316.8 L993.5 318.3 L993.7 319.7 L994.0 321.2 L994.2 322.7 L994.4 324.2 L994.7 325.7 L994.9 327.2 L995.2 328.6 L995.4 330.1 L995.6 331.6 L995.9 333.1 L996.1 334.6 L996.3 336.0 L996.6 337.5 L996.8 339.0 L997.0 340.5 L997.3 342.0 L997.5 343.5 L997.7 344.9 L997.9 346.4 L998.2 347.9 L998.4 349.4 L998.6 350.9 L998.9 352.4 L999.1 353.8 L999.3 355.3 L999.5 356.8 L999.8 358.3 L1000.0 359.8 L1000.2 361.2 L1000.4 362.7 L1000.7 364.2 L1000.9 365.7 L1001.1 367.2 L1001.3 368.7 L1001.6 370.1 L1001.8 371.6 L1002.0 373.1 L1002.2 374.6 L1002.5 376.1 L1002.7 377.6 L1002.9 379.0 L1003.1 380.5 L1003.4 382.0 L1003.6 383.5 L1003.8 385.0 L1004.0 386.5 L1004.3 387.9 L1004.5 389.4 L1004.7 390.9 L1004.9 392.4 L1005.2 393.9 L1005.4 395.4 L1005.6 396.8 L1005.8 398.3 L1006.1 399.8 L1006.3 401.3 L1006.5 402.8 L1006.8 404.3 L1007.0 405.7 L1007.2 407.2 L1007.4 408.7 L1007.7 410.2 L1007.9 411.7 L1008.1 413.1 L1008.4 414.6 L1008.6 416.1 L1008.8 417.6 L1009.1 419.1 L1009.3 420.6 L1009.5 422.0 L1009.8 423.5 L1010.0 425.0 L1010.2 426.5 L1010.5 428.0 L1010.7 429.5 L1011.0 430.9 L1011.2 432.4 L1011.4 433.9 L1011.7 435.4 L1011.9 436.9 L1012.2 438.4 L1012.4 439.8 L1012.7 441.3 L1012.9 442.8 L1013.2 444.3 L1013.4 445.8 L1013.7 447.3 L1013.9 448.7 L1014.2 450.2 L1014.4 451.7 L1014.7 453.2 L1014.9 454.7 L1015.2 456.1 L1015.4 457.6 L1015.7 459.1 L1016.0 460.6 L1016.2 462.1 L1016.5 463.6 L1016.7 465.0 L1017.0 466.5 L1017.3 468.0 L1017.5 469.5 L1017.8 471.0 L1018.1 472.4 L1018.4 473.9 L1018.7 475.4 L1019.0 476.9 L1019.3 478.3 L1019.6 479.8 L1019.9 481.3 L1020.2 482.7 L1020.6 484.2 L1020.9 485.6 L1021.3 487.1 L1021.7 488.5 L1022.1 490.0 L1022.5 491.4 L1022.9 492.8 L1023.3 494.3 L1023.8 495.7 L1024.3 497.1 L1024.7 498.5 L1025.2 499.9 L1025.8 501.3 L1026.3 502.7 L1026.9 504.1 L1027.5 505.5 L1028.1 506.8 L1028.7 508.2 L1029.3 509.6 L1030.0 510.9 L1030.6 512.3 L1031.3 513.6 L1032.0 514.9 L1032.7 516.3 L1033.4 517.6 L1034.1 519.0 L1034.8 520.3 L1035.5 521.6 L1036.2 523.0 L1036.9 524.3 L1037.6 525.7 L1038.3 527.0 L1038.9 528.4 L1039.6 529.7 L1040.3 531.1 L1041.0 532.4 L1041.6 533.8 L1042.3 535.2 L1042.9 536.5 L1043.6 537.9 L1044.2 539.3 L1044.8 540.7 L1045.5 542.0 L1046.1 543.4 L1046.8 544.7 L1047.4 546.1 L1048.1 547.4 L1048.8 548.8 L1049.5 550.1 L1050.2 551.4 L1050.9 552.7 L1051.6 554.0 L1052.3 555.3 L1053.1 556.6 L1053.8 557.9 L1054.6 559.1 L1055.5 560.4 L1056.3 561.6 L1057.1 562.8 L1058.0 564.0 L1058.9 565.1 L1059.9 566.3 L1060.9 567.4 L1061.9 568.5 L1062.9 569.6 L1063.9 570.6 L1065.0 571.7 L1066.1 572.7 L1067.3 573.7 L1068.4 574.7 L1069.6 575.7 L1070.8 576.6 L1072.0 577.5 L1073.2 578.4 L1074.4 579.3 L1075.7 580.2 L1077.0 581.0 L1078.2 581.9 L1079.5 582.7 L1080.8 583.5 L1082.1 584.3 L1083.4 585.0 L1084.7 585.8 L1086.0 586.5 L1087.4 587.2 L1088.7 587.9 L1090.0 588.6 L1091.4 589.3 L1092.7 589.9 L1094.1 590.5 L1095.5 591.2 L1096.8 591.8 L1098.2 592.4 L1099.6 593.0 L1101.0 593.5 L1102.4 594.1 L1103.7 594.6 L1105.1 595.2 L1106.5 595.7 L1108.0 596.2 L1109.4 596.7 L1110.8 597.2 L1112.2 597.6 L1113.6 598.1 L1115.0 598.6 L1116.5 599.0 L1117.9 599.4 L1119.3 599.9 L1120.8 600.3 L1122.2 600.7 L1123.7 601.1 L1125.1 601.5 L1126.6 601.9 L1128.0 602.2 L1129.5 602.6 L1130.9 603.0 L1132.4 603.3 L1133.8 603.7 L1135.3 604.0 L1136.8 604.4 L1138.2 604.7 L1139.7 605.0 L1141.2 605.3 L1142.6 605.7 L1144.1 606.0 L1145.6 606.3 L1147.1 606.6 L1148.5 606.9 L1150.0 607.2 L1151.5 607.5 L1153.0 607.8 L1154.4 608.1 L1155.9 608.4 L1157.4 608.7 L1158.8 609.0 L1160.3 609.3 L1161.8 609.5 L1163.3 609.8 L1164.7 610.1 L1166.2 610.4 L1167.7 610.7 L1169.2 610.9 L1170.7 611.2 L1172.1 611.5 L1173.6 611.7 L1175.1 612.0 L1176.6 612.3 L1178.0 612.5 L1179.5 612.8 L1181.0 613.0 L1182.5 613.3 L1184.0 613.6 L1185.4 613.8 L1186.9 614.1 L1188.4 614.3 L1189.9 614.5 L1191.3 614.8 L1192.8 615.0 L1194.3 615.3 L1195.8 615.5 L1197.3 615.8 L1198.8 616.0 L1200.2 616.2 L1201.7 616.5 L1203.2 616.7 L1204.7 616.9 L1206.2 617.2 L1207.6 617.4 L1209.1 617.6 L1210.6 617.8 L1212.1 618.1 L1213.6 618.3 L1215.1 618.5 L1216.5 618.7 L1218.0 618.9 L1219.5 619.1 L1221.0 619.4 L1222.5 619.6 L1224.0 619.8 L1225.5 620.0 L1226.9 620.2 L1228.4 620.4 L1229.9 620.6 L1231.4 620.8 L1232.9 621.0 L1234.4 621.2 L1235.9 621.4 L1237.3 621.6 L1238.8 621.8 L1240.3 622.0 L1241.8 622.2 L1243.3 622.4 L1244.8 622.6 L1246.3 622.8 L1247.8 623.0 L1249.3 623.2 L1250.7 623.4 L1252.2 623.6 L1253.7 623.8 L1255.2 624.0 L1256.7 624.2 L1258.2 624.4 L1259.7 624.6 L1261.2 624.8 L1262.7 625.0 L1264.2 625.2 L1265.7 625.3 L1267.2 625.5 L1268.6 625.7 L1270.1 625.9 L1271.6 626.1 L1273.1 626.3 L1274.6 626.4 L1276.1 626.6 L1277.6 626.8 L1279.1 627.0 L1280.6 627.1 L1282.1 627.3 L1283.6 627.5 L1285.1 627.7 L1286.6 627.8 L1288.1 628.0 L1289.6 628.1 L1291.1 628.3 L1292.6 628.5 L1294.1 628.6 L1295.5 628.8 L1297.0 628.9 L1298.5 629.1 L1300.0 629.2 L1301.5 629.3 L1303.0 629.5 L1304.5 629.6 L1306.0 629.7 L1307.5 629.9 L1309.0 630.0 L1310.5 630.1 L1312.0 630.2 L1313.5 630.3 L1315.0 630.4 L1316.5 630.5 L1318.0 630.6 L1319.5 630.7 L1321.0 630.8 L1322.5 630.9 L1324.0 631.0 L1325.5 631.1 L1327.0 631.2 L1328.5 631.2 L1330.0 631.3 L1331.5 631.4 L1333.0 631.4 L1334.5 631.5 L1336.0 631.5 L1337.5 631.6 L1339.0 631.6 L1340.5 631.7 L1342.0 631.7 L1343.5 631.7 L1345.0 631.7 L1346.4 631.7 L1347.9 631.7 L1349.4 631.7 L1350.9 631.7 L1352.4 631.7 L1353.9 631.7 L1355.4 631.7 L1356.9 631.7 L1358.4 631.6 L1359.9 631.6 L1361.4 631.5 L1362.9 631.5 L1364.4 631.4 L1365.9 631.4 L1367.4 631.3 L1368.9 631.2 L1370.4 631.1 L1371.9 631.0 L1373.4 630.9 L1374.9 630.8 L1376.4 630.7 L1377.9 630.6 L1379.4 630.5 L1380.9 630.3 L1382.4 630.2 L1383.8 630.0 L1385.3 629.9 L1386.8 629.7 L1388.3 629.6 L1389.8 629.4 L1391.3 629.2 L1392.8 629.0 L1394.3 628.8 L1395.8 628.6 L1397.3 628.5 L1398.8 628.3 L1400.3 628.1 L1401.8 627.9 L1403.3 627.8 L1404.8 627.6 L1406.2 627.5 L1407.7 627.4 L1409.2 627.2 L1410.7 627.1 L1412.2 627.1 L1413.7 627.0 L1415.2 627.0 L1416.7 626.9 L1418.2 626.9 L1419.7 627.0 L1421.2 627.0 L1422.7 627.1 L1424.2 627.2 L1425.7 627.3 L1427.2 627.5 L1428.6 627.7 L1430.1 627.9 L1431.6 628.1 L1433.1 628.4 L1434.6 628.6 L1436.1 628.9 L1437.6 629.1 L1439.1 629.4 L1440.6 629.7 L1442.1 629.9 L1443.6 630.2 L1445.1 630.4 L1446.6 630.7 L1448.1 630.9 L1449.6 631.1 L1451.1 631.3 L1452.6 631.5 L1454.1 631.6 L1455.6 631.8 L1457.1 631.9 L1458.6 632.0 L1460.1 632.2 L1461.5 632.3 L1463.0 632.4 L1464.5 632.5 L1466.0 632.6 L1467.5 632.6 L1469.0 632.7 L1470.5 632.8 L1472.0 632.8 L1473.5 632.9 L1475.0 632.9 L1476.5 633.0 L1478.0 633.0 L1479.5 633.0 L1481.0 633.1 L1482.5 633.1 L1484.0 633.2 L1485.5 633.2 L1487.0 633.2 L1488.5 633.3 L1490.0 633.3 L1491.5 633.3 L1493.0 633.4 L1494.5 633.4 L1496.0 633.5 L1497.5 633.5 L1499.0 633.6 L1500.5 633.7 L1502.0 633.7 L1503.5 633.8 L1505.0 633.9 L1506.5 634.0 L1508.0 634.1 L1509.5 634.2 L1511.0 634.4 L1512.5 634.5 L1514.0 634.7 L1515.5 634.8 L1517.0 635.0" stroke="#000"/>
</g>
<g stroke="#000" stroke-width="2.5" fill="none">
<line x1="773" y1="644" x2="1518.7" y2="644"/>
<line x1="1517.5" y1="16.5" x2="1517.5" y2="657"/>
<line x1="773.0" y1="644" x2="773.0" y2="657"/><line x1="835.0" y1="644" x2="835.0" y2="651"/><line x1="897.1" y1="644" x2="897.1" y2="657"/><line x1="959.1" y1="644" x2="959.1" y2="651"/><line x1="1021.2" y1="644" x2="1021.2" y2="657"/><line x1="1083.2" y1="644" x2="1083.2" y2="651"/><line x1="1145.2" y1="644" x2="1145.2" y2="657"/><line x1="1207.3" y1="644" x2="1207.3" y2="651"/><line x1="1269.3" y1="644" x2="1269.3" y2="657"/><line x1="1331.4" y1="644" x2="1331.4" y2="651"/><line x1="1393.4" y1="644" x2="1393.4" y2="657"/><line x1="1455.5" y1="644" x2="1455.5" y2="651"/><line x1="1517.5" y1="644" x2="1517.5" y2="657"/>
<line x1="1517.5" y1="644.0" x2="1530.5" y2="644.0"/><line x1="1517.5" y1="591.8" x2="1524.5" y2="591.8"/><line x1="1517.5" y1="539.6" x2="1530.5" y2="539.6"/><line x1="1517.5" y1="487.4" x2="1524.5" y2="487.4"/><line x1="1517.5" y1="435.2" x2="1530.5" y2="435.2"/><line x1="1517.5" y1="383.0" x2="1524.5" y2="383.0"/><line x1="1517.5" y1="330.8" x2="1530.5" y2="330.8"/><line x1="1517.5" y1="278.5" x2="1524.5" y2="278.5"/><line x1="1517.5" y1="226.3" x2="1530.5" y2="226.3"/><line x1="1517.5" y1="174.1" x2="1524.5" y2="174.1"/><line x1="1517.5" y1="121.9" x2="1530.5" y2="121.9"/><line x1="1517.5" y1="69.7" x2="1524.5" y2="69.7"/><line x1="1517.5" y1="17.5" x2="1530.5" y2="17.5"/>
</g>
<g stroke="#0000ee" stroke-width="2.5" fill="none">
<line x1="773" y1="16.5" x2="773" y2="645.2"/>
<line x1="760" y1="644.0" x2="773.0" y2="644.0"/><line x1="766" y1="591.8" x2="773.0" y2="591.8"/><line x1="760" y1="539.6" x2="773.0" y2="539.6"/><line x1="766" y1="487.4" x2="773.0" y2="487.4"/><line x1="760" y1="435.2" x2="773.0" y2="435.2"/><line x1="766" y1="383.0" x2="773.0" y2="383.0"/><line x1="760" y1="330.7" x2="773.0" y2="330.7"/><line x1="766" y1="278.5" x2="773.0" y2="278.5"/><line x1="760" y1="226.3" x2="773.0" y2="226.3"/><line x1="766" y1="174.1" x2="773.0" y2="174.1"/><line x1="760" y1="121.9" x2="773.0" y2="121.9"/><line x1="766" y1="69.7" x2="773.0" y2="69.7"/><line x1="760" y1="17.5" x2="773.0" y2="17.5"/>
</g>
<g font-size="27.4" fill="#000" text-anchor="middle"><text x="773.0" y="686">500</text><text x="897.1" y="686">550</text><text x="1021.2" y="686">600</text><text x="1145.2" y="686">650</text><text x="1269.3" y="686">700</text><text x="1393.4" y="686">750</text><text x="1517.5" y="686">800</text></g>
<g font-size="27.4" fill="#0000ee" text-anchor="end"><text x="751" y="652.0">0.0</text><text x="751" y="547.6">0.2</text><text x="751" y="443.2">0.4</text><text x="751" y="338.7">0.6</text><text x="751" y="234.3">0.8</text><text x="751" y="129.9">1.0</text><text x="751" y="25.5">1.2</text></g>
<g font-size="27.4" fill="#000"><text x="1539" y="651.5">0</text><text x="1539" y="547.1">50</text><text x="1539" y="442.7">100</text><text x="1539" y="338.2">150</text><text x="1539" y="233.8">200</text><text x="1539" y="129.4">250</text><text x="1539" y="25.0">300</text></g>
<text x="1147" y="738" font-size="43" text-anchor="middle">Wavelength (nm)</text>
<text transform="translate(681.5 360.4) rotate(-90)" font-size="42.2" text-anchor="middle">Absorbance (a.u.)</text>
<text transform="translate(1638.5 683.7) rotate(-90)" font-size="42.7">Blood absorption coefficient (cm<tspan font-size="24.5" dy="-22">-1</tspan><tspan dy="22">)</tspan></text>
<text x="1254.5" y="27" font-size="34">712 nm</text>
<text x="793" y="64" font-size="38" stroke="#000" stroke-width="0.7" transform="translate(793 0) scale(0.99 1) translate(-793 0)">(b)</text>
<g stroke-width="3" stroke-linecap="butt">
<line x1="1191" y1="314.2" x2="1248" y2="314.2" stroke="#0000cc"/>
<line x1="1191" y1="343.8" x2="1248" y2="343.8" stroke="#dd0000"/>
<line x1="1191" y1="373.5" x2="1248" y2="373.5" stroke="#000"/>
</g>
<g font-size="24" fill="#000">
<text x="1254" y="322">Prussian blue NPs</text>
<text x="1254" y="352">Blood with 90% oxygen</text>
<text x="1254" y="381.5">Blood with 10% oxygen</text>
</g>
</svg>
</body></html>
